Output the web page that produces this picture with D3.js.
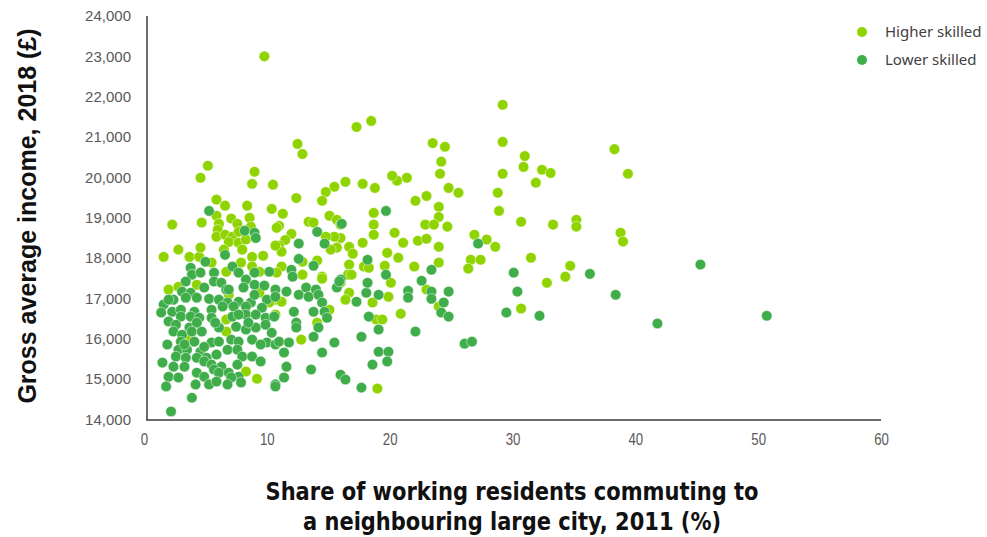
<!DOCTYPE html>
<html>
<head>
<meta charset="utf-8">
<script src="https://cdn.jsdelivr.net/npm/d3@7"></script>
<style>
  html, body { margin: 0; padding: 0; background: #fff; }
  svg { display: block; }
</style>
</head>
<body>
<svg id="chart" width="987" height="537"></svg>
<script>
// Share of residents commuting to a neighbouring large city (%) vs gross average income (£)
const higherSkilled = [
  [9.8,23000],[29.2,21800],[17.3,21250],[18.5,21400],[23.5,20850],[24.5,20760],[12.5,20830],[12.9,20580],
  [29.2,20880],[31.0,20530],[30.9,20260],[38.3,20700],[39.4,20090],[5.2,20290],[24.2,20390],[24.1,20090],
  [32.4,20190],[33.1,20110],[31.9,19870],[29.2,20090],[28.8,19620],[28.9,19170],[21.4,19990],[20.6,19920],
  [20.2,20040],[24.8,19740],[25.6,19620],[22.1,19420],[23.0,19540],[24.0,19270],[24.0,19020],[22.9,18830],
  [23.6,18830],[24.7,18780],[21.1,18380],[22.3,18430],[23.0,18480],[24.0,18280],[24.0,17890],[22.0,17790],
  [26.9,18580],[27.9,18460],[28.6,18280],[26.6,17960],[27.4,17960],[26.4,17740],[30.7,18900],[33.3,18830],
  [35.2,18950],[35.2,18780],[31.5,18010],[34.7,17810],[34.3,17540],[32.8,17390],[30.7,16750],[38.8,18630],
  [39.0,18410],[20.9,16620],[23.0,17220],[24.0,16800],[10.5,19820],[16.4,19890],[15.5,19770],[14.8,19640],
  [14.5,19420],[12.4,19490],[17.8,19840],[18.8,19740],[10.4,19220],[11.3,19100],[11.0,18800],[13.4,18900],
  [13.8,18880],[15.1,19050],[15.7,18950],[16.0,18830],[18.7,19120],[18.7,18830],[18.7,18580],[20.4,18630],
  [17.8,18380],[16.7,18280],[17.0,18110],[16.0,18500],[15.5,18530],[15.7,18260],[14.8,18530],[15.2,18210],
  [12.0,18600],[11.5,18450],[11.0,18310],[11.2,18160],[12.9,17910],[14.1,17940],[16.7,17840],[19.8,18130],
  [20.7,18010],[17.9,17790],[18.3,17760],[19.6,17810],[11.2,17790],[10.8,17640],[12.9,17590],[14.5,17540],
  [16.6,17590],[4.6,19990],[9.0,20140],[8.8,19840],[5.9,19450],[6.6,19300],[8.4,19300],[2.3,18830],
  [4.7,18880],[5.9,19050],[7.1,18980],[6.1,18850],[7.6,18850],[8.6,19000],[8.7,18780],[6.0,18700],
  [5.9,18530],[6.6,18580],[7.2,18530],[7.7,18650],[6.9,18400],[7.7,18380],[8.3,18460],[10.7,18310],
  [10.8,18750],[2.8,18210],[1.6,18030],[3.7,18030],[4.5,18030],[4.6,18260],[6.5,18210],[8.0,18210],
  [8.8,18030],[9.7,18060],[5.5,17890],[7.9,17890],[8.8,17790],[6.7,17660],[9.4,17660],[4.3,17340],
  [2.0,17220],[2.8,17290],[9.4,17140],[6.9,17090],[10.7,16970],[6.7,16180],[3.7,16030],[6.7,16480],
  [8.3,15190],[9.2,15010],[14.5,17490],[16.0,17390],[16.9,17590],[16.7,17140],[16.4,16970],[18.6,16900],
  [20.1,17390],[18.9,16480],[19.4,16480],[12.8,15980],[15.1,16720],[14.1,16400],[11.2,16920],[10.7,16600],
  [10.2,16900],[19.0,14770],[19.9,17040]
];

const lowerSkilled = [
  [5.3,19170],[19.7,19170],[16.1,18850],[14.1,18650],[12.6,18360],[14.7,18360],[12.6,17980],[13.8,17810],
  [18.2,17960],[19.7,17590],[8.2,18680],[9.0,18630],[9.1,18500],[6.6,18080],[5.0,17910],[7.2,17790],
  [3.8,17760],[9.0,17640],[5.7,17640],[3.9,17590],[27.2,18360],[23.4,17710],[30.1,17640],[36.3,17610],
  [22.6,17440],[21.5,17190],[21.5,17020],[23.4,17170],[23.4,16990],[24.8,17170],[24.4,16900],[24.2,16650],
  [24.8,16550],[22.1,16180],[26.1,15880],[26.7,15930],[30.4,17170],[29.5,16650],[32.2,16570],[38.4,17090],
  [41.8,16380],[45.3,17840],[50.7,16570],[10.2,17660],[12.0,17710],[12.1,17540],[16.0,17470],[4.6,17640],
  [7.7,17640],[3.4,17420],[5.7,17420],[6.3,17390],[8.3,17470],[8.1,17270],[9.0,17340],[6.7,17220],
  [3.1,17170],[3.8,17140],[4.9,17270],[9.8,17320],[10.7,17220],[1.6,16850],[1.4,16650],[2.4,16970],
  [3.4,17020],[4.3,17020],[5.3,16990],[6.1,16970],[6.8,16900],[7.7,16920],[8.7,16900],[9.0,17090],
  [10.0,16970],[5.5,16720],[6.4,16800],[7.3,16800],[8.3,16800],[9.6,16770],[2.3,16670],[3.0,16720],
  [4.1,16670],[3.0,16550],[3.8,16550],[4.5,16520],[5.5,16520],[7.2,16550],[8.3,16600],[9.1,16600],
  [9.9,16520],[10.6,16550],[2.0,16430],[2.6,16350],[3.7,16280],[4.3,16400],[6.1,16280],[7.5,16300],
  [8.3,16230],[9.1,16280],[9.9,16350],[10.4,16150],[2.4,16180],[3.1,16100],[3.9,16180],[4.7,16180],
  [1.9,15860],[3.0,15930],[4.1,15930],[5.5,15910],[6.1,15930],[7.1,15980],[7.7,15930],[8.8,15980],
  [10.0,15910],[10.7,15860],[2.8,15730],[3.5,15730],[4.6,15680],[6.8,15730],[7.6,15730],[2.6,15560],
  [3.4,15530],[4.3,15530],[5.1,15530],[5.9,15610],[8.0,15560],[8.8,15560],[1.5,15410],[2.4,15310],
  [3.3,15310],[4.9,15440],[5.5,15360],[6.3,15310],[7.6,15360],[2.0,15060],[2.8,15040],[4.3,15160],
  [4.9,15060],[5.7,15240],[6.1,15160],[6.9,15160],[7.7,15060],[1.8,14820],[4.2,14870],[5.3,14870],
  [5.9,14940],[7.1,15040],[7.9,14920],[10.7,14870],[3.9,14540],[2.2,14200],[10.7,17040],[11.6,17170],
  [12.6,17090],[13.2,17270],[13.4,17040],[14.0,17220],[14.2,17090],[14.5,16900],[14.7,16670],[14.9,16520],
  [13.8,16670],[12.2,16670],[12.4,16400],[12.4,16280],[11.0,15930],[11.8,15910],[11.4,15660],[11.6,15310],
  [11.4,15040],[10.7,14820],[13.6,15240],[14.5,15660],[14.2,16280],[13.8,16050],[15.5,15910],[16.0,15110],
  [16.4,14990],[17.7,14790],[17.7,16050],[18.3,16550],[19.1,16230],[19.1,15680],[19.9,15680],[18.6,15360],
  [19.8,15440],[17.3,16920],[18.1,17140],[18.2,17390],[19.1,17090],[15.7,17270],[15.9,17420],
  [6.9,17220],[8.5,16400],[4.9,15800],[3.3,15860],[9.5,15860],[9.5,15440],[6.8,14870],[2.0,16970],
  [5.8,16400],[7.7,16600]
];

const xTicks = [0, 10, 20, 30, 40, 50, 60];
const yTicks = [14000, 15000, 16000, 17000, 18000, 19000, 20000, 21000, 22000, 23000, 24000];
const seriesNames = ["Higher skilled", "Lower skilled"];
const seriesColors = ["#8fd400", "#3fad4a"];

const svg = d3.select("#chart");

const x = d3.scaleLinear().domain([0, 60]).range([144, 881]);
const y = d3.scaleLinear().domain([14000, 24000]).range([419.5, 16]);

const tickFont = "'Liberation Sans', Arial, Helvetica, sans-serif";
const narrowFont = "'Liberation Sans Narrow', 'DejaVu Sans Condensed', 'Liberation Sans', sans-serif";

// Axis lines
svg.append("line")
  .attr("x1", 147).attr("x2", 147)
  .attr("y1", y(24000)).attr("y2", 420)
  .attr("stroke", "#3a3a3a").attr("stroke-width", 1.5);
svg.append("line")
  .attr("x1", 146.25).attr("x2", x(60))
  .attr("y1", 420).attr("y2", 420)
  .attr("stroke", "#3a3a3a").attr("stroke-width", 1.5);

// Y tick labels
const yAxis = d3.axisLeft(y).tickValues(yTicks).tickSize(0).tickPadding(0)
  .tickFormat(d3.format(","));
svg.append("g")
  .attr("transform", "translate(131,0)")
  .call(yAxis)
  .call(g => g.select(".domain").remove())
  .call(g => g.selectAll("text")
    .attr("fill", "#595959")
    .style("font-family", tickFont)
    .style("font-size", "15px"));

// X tick labels, horizontally condensed
const xAxis = d3.axisBottom(x).tickValues(xTicks).tickSize(0).tickPadding(0);
svg.append("g")
  .attr("transform", "translate(0,433)")
  .call(xAxis)
  .call(g => g.select(".domain").remove())
  .call(g => g.selectAll("text")
    .attr("fill", "#595959")
    .attr("transform", "scale(0.78,1)")
    .style("font-family", tickFont)
    .style("font-size", "17px"));

// Points: higher skilled first, lower skilled drawn on top
const series = [higherSkilled, lowerSkilled];
series.forEach((pts, i) => {
  svg.append("g")
    .selectAll("circle")
    .data(pts)
    .join("circle")
    .attr("cx", d => x(d[0]))
    .attr("cy", d => y(d[1]))
    .attr("r", 5.3)
    .attr("fill", seriesColors[i])
    .attr("stroke", "#ffffff")
    .attr("stroke-width", 0.6)
    .attr("stroke-opacity", 0.8);
});

// Legend
const legend = svg.append("g");
seriesNames.forEach((name, i) => {
  const ly = 32 + i * 28;
  legend.append("circle")
    .attr("cx", 862).attr("cy", ly).attr("r", 5)
    .attr("fill", seriesColors[i]);
  legend.append("text")
    .attr("x", 885).attr("y", ly)
    .attr("dy", "0.35em")
    .attr("fill", "#404040")
    .style("font-family", "'Noto Sans', 'Open Sans', sans-serif")
    .style("font-size", "15px")
    .text(name);
});

// Y axis title
svg.append("text")
  .attr("transform", "translate(27,216) rotate(-90)")
  .attr("text-anchor", "middle")
  .attr("dominant-baseline", "central")
  .attr("fill", "#111")
  .style("font-family", tickFont)
  .style("font-weight", "bold")
  .style("font-size", "25px")
  .text("Gross average income, 2018 (£)");

// X axis title (two lines)
const xTitle = [
  { text: "Share of working residents commuting to", yy: 492, len: 493 },
  { text: "a neighbouring large city, 2011 (%)", yy: 522, len: 418 }
];
xTitle.forEach(t => {
  svg.append("text")
    .attr("x", 512).attr("y", t.yy)
    .attr("text-anchor", "middle")
    .attr("dominant-baseline", "central")
    .attr("fill", "#111")
    .attr("textLength", t.len)
    .attr("lengthAdjust", "spacingAndGlyphs")
    .style("font-family", narrowFont)
    .style("font-weight", "bold")
    .style("font-size", "24px")
    .text(t.text);
});
</script>
</body>
</html>
